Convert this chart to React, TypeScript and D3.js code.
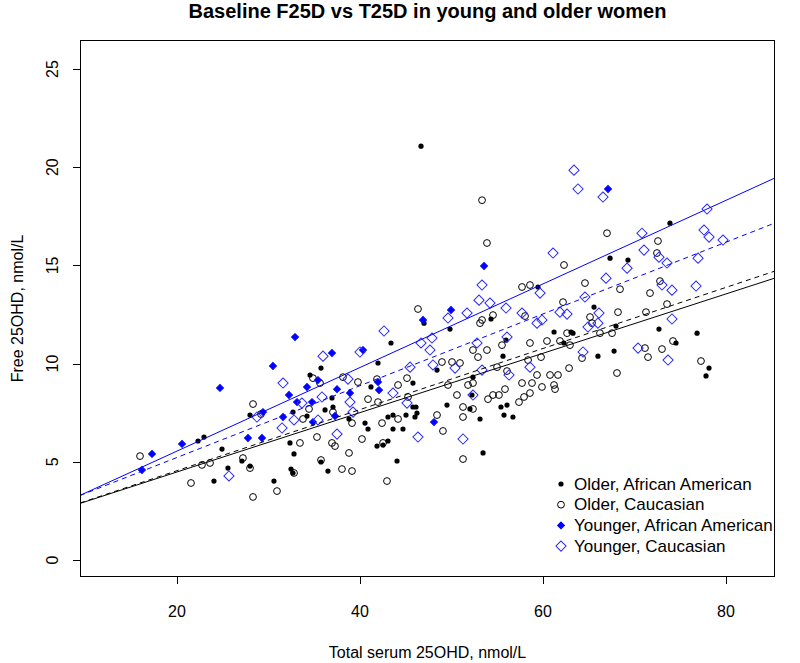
import React from 'react';
import * as d3 from 'd3';

// ---- Data (Total serum 25OHD, Free 25OHD) ----
const olderAfricanAmerican: [number, number][] = [
  [22.95, 6.26], [22.3, 6.06], [27.98, 7.38], [24.92, 5.65], [25.57, 4.68], [27.1, 5.04], [27.98, 4.78],
  [32.35, 5.96], [32.79, 5.4], [32.46, 4.63], [32.68, 4.43], [30.6, 4.02], [24.04, 4.02], [32.68, 7.53],
  [43.39, 11.05], [41.97, 10.03], [35.74, 9.77], [34.54, 9.42], [45.79, 9.01],
  [36.94, 8.25], [41.2, 8.81], [45.79, 7.79], [46.12, 7.79], [36.18, 7.64], [37.05, 7.79], [34.21, 7.33],
  [38.8, 7.18], [40.55, 6.97], [40.88, 6.67], [43.06, 7.28], [43.61, 7.38], [45.03, 7.38], [46.01, 7.28],
  [46.23, 7.48], [43.61, 6.67], [44.7, 6.67], [41.86, 5.8], [42.52, 5.85], [43.06, 6.06], [35.74, 4.99],
  [36.5, 4.53], [44.05, 5.04],
  [59.46, 13.9], [47.0, 12.06], [54.32, 12.27], [49.84, 11.76], [55.96, 11.2], [55.63, 10.38], [48.42, 9.67],
  [52.35, 9.31], [52.24, 8.4], [49.51, 7.89], [52.02, 7.69], [53.12, 7.18], [55.41, 7.79], [56.07, 7.89],
  [55.74, 7.38], [56.72, 7.28], [53.45, 5.45],
  [65.58, 12.88], [61.21, 11.61], [63.06, 11.61], [63.28, 11.55], [67.98, 11.91], [72.68, 11.76], [62.3, 11.05],
  [66.01, 10.38], [67.77, 10.64], [76.84, 11.55], [74.54, 11.05], [78.15, 9.77], [77.82, 9.37],
  [46.67, 21.07], [73.88, 17.15], [67.33, 15.37], [69.29, 15.27],
];

const olderCaucasian: [number, number][] = [
  [28.31, 7.94], [29.18, 7.43], [33.77, 7.18], [33.44, 5.96], [27.21, 5.19], [22.73, 4.84], [23.61, 4.94],
  [27.98, 4.68], [32.79, 4.43], [21.53, 3.92], [30.93, 3.51], [28.31, 3.21], [15.96, 5.29],
  [46.34, 12.78], [45.14, 9.26], [34.86, 9.26], [38.14, 9.31], [39.78, 9.06], [41.86, 9.21],
  [35.63, 9.01], [40.88, 8.19], [41.97, 8.04], [44.16, 8.91], [45.25, 8.3], [37.05, 7.53], [34.43, 7.69],
  [39.13, 6.97], [42.41, 6.97], [44.16, 7.18], [40.22, 6.16], [42.52, 5.96], [35.3, 6.26], [36.94, 5.96],
  [37.27, 5.8], [38.8, 5.45], [35.74, 5.09], [38.03, 4.63], [39.13, 4.53], [42.95, 4.02],
  [57.71, 13.9], [58.58, 14.0], [53.34, 12.22], [54.54, 12.47], [53.12, 12.06], [58.04, 12.42],
  [52.35, 10.69], [53.88, 10.69], [52.9, 10.33], [55.52, 10.94], [58.58, 11.05], [59.79, 10.33], [58.37, 10.18],
  [48.96, 10.08], [50.06, 10.08], [50.93, 10.03], [54.98, 9.82], [56.07, 9.62], [59.35, 9.42],
  [49.62, 8.91], [51.81, 8.91], [52.35, 9.01], [50.6, 8.4], [53.99, 8.19], [54.54, 8.4], [55.19, 8.4],
  [55.85, 8.7], [57.71, 9.01], [58.8, 9.01], [59.89, 8.81], [57.38, 8.04], [57.93, 8.3], [58.58, 8.5],
  [51.26, 7.79], [52.35, 7.69], [51.26, 7.28], [48.42, 7.38], [49.07, 6.57], [51.26, 5.14],
  [64.59, 14.1], [68.42, 13.79], [71.7, 13.59], [62.19, 13.13], [68.2, 12.62], [71.26, 12.62], [65.14, 12.37],
  [65.36, 12.06], [62.63, 11.55], [66.23, 11.55], [67.55, 11.55], [73.01, 10.74], [60.44, 11.15], [61.86, 11.15],
  [62.95, 10.94], [64.27, 10.28], [71.15, 10.79], [71.48, 10.33], [62.85, 9.77], [60.77, 9.42], [61.64, 9.42],
  [68.09, 9.52], [61.21, 8.91], [61.32, 8.7],
  [73.56, 13.03], [74.21, 11.15], [77.27, 10.13],
  [53.34, 18.32], [53.88, 16.14], [67.0, 16.64], [72.57, 16.24], [72.46, 15.63], [62.3, 15.02], [72.79, 14.2],
];

const youngerAfricanAmerican: [number, number][] = [
  [16.17, 4.58], [17.27, 5.4], [20.55, 5.91], [24.7, 8.76], [30.49, 9.88], [32.9, 11.35], [32.24, 8.4],
  [33.12, 8.04], [27.76, 6.21], [29.29, 6.21], [31.59, 7.28], [29.4, 7.53],
  [46.89, 12.22], [36.94, 10.54], [40.33, 10.69], [35.41, 9.16], [41.97, 9.06], [42.08, 8.65],
  [34.21, 8.81], [34.76, 8.04], [37.49, 8.7], [38.91, 8.5], [37.27, 7.33], [34.86, 7.02],
  [49.95, 12.73], [48.09, 7.02], [53.56, 14.97], [67.11, 18.89],
];

const youngerCaucasian: [number, number][] = [
  [31.59, 9.01], [28.74, 7.28], [32.79, 7.13], [31.48, 6.72], [33.66, 7.99], [25.68, 4.28],
  [42.63, 11.66], [35.96, 10.38], [40.0, 10.59], [46.67, 11.05], [45.47, 9.82], [38.69, 9.21],
  [35.85, 8.3], [38.91, 8.04], [39.24, 7.53], [43.61, 8.5], [45.14, 7.99], [35.41, 7.13], [37.49, 6.41], [46.34, 6.26],
  [53.34, 14.0], [59.68, 13.59], [53.01, 13.23], [54.21, 13.08], [55.96, 12.83], [49.62, 12.32], [51.7, 12.57],
  [57.71, 12.57], [59.35, 12.06], [59.89, 12.22], [47.87, 11.3], [47.65, 10.69], [52.79, 11.05], [56.07, 11.35],
  [47.98, 9.93], [50.39, 9.77], [53.34, 9.67], [56.29, 9.42], [58.58, 9.82], [52.35, 8.4], [51.26, 6.16],
  [66.89, 14.35], [73.01, 14.0], [64.59, 13.39], [66.12, 12.57], [61.86, 12.62], [62.63, 12.52], [66.01, 12.06],
  [64.92, 11.86], [64.38, 10.59], [70.39, 10.79], [74.1, 13.74], [76.73, 13.95], [74.1, 12.27], [73.67, 10.18],
  [61.1, 15.63], [63.39, 19.85], [63.83, 18.89], [66.56, 18.48], [77.93, 17.87], [70.82, 16.64], [77.6, 16.8],
  [78.15, 16.44], [79.68, 16.29], [71.04, 15.78], [72.68, 15.42], [73.56, 15.12], [76.95, 15.37], [69.19, 14.86],
];

// Regression lines: [older AA, older Caucasian, younger AA, younger Caucasian]
const lineIntercepts = [1.459, 1.439, 1.289, 1.566];
const lineSlopes = [0.1511, 0.1555, 0.2128, 0.1827];
const lineColors = ['#000000', '#000000', '#0000ff', '#0000ff'];
const lineDashes = ['none', '5,4', 'none', '5,4'];

const xTicks = [20, 40, 60, 80];
const yTicks = [0, 5, 10, 15, 20, 25];
const legendLabels = ['Older, African American', 'Older, Caucasian', 'Younger, African American', 'Younger, Caucasian'];

const title = 'Baseline F25D vs T25D in young and older women';
const xLabel = 'Total serum 25OHD, nmol/L';
const yLabel = 'Free 25OHD, nmol/L';

const W = 800;
const H = 663;
const L = 80, R = 775, T = 40, B = 577;
const BLUE = '#0000ff';
const BLUE_OPEN = '#2a2aff';

const diamondOpen = d3.symbol(d3.symbolSquare, 52)() as string;
const diamondFilled = d3.symbol(d3.symbolSquare, 24)() as string;

function Marker({ kind, cx, cy }: { kind: number; cx: number; cy: number }) {
  if (kind === 0) return <circle cx={cx} cy={cy} r={2.6} fill="#000" />;
  if (kind === 1) return <circle cx={cx} cy={cy} r={3.4} fill="none" stroke="#000" strokeWidth={1} />;
  if (kind === 2)
    return <path d={diamondFilled} transform={`translate(${cx},${cy}) rotate(45)`} fill={BLUE} stroke={BLUE} strokeWidth={1} />;
  return <path d={diamondOpen} transform={`translate(${cx},${cy}) rotate(45)`} fill="none" stroke={BLUE_OPEN} strokeWidth={1} />;
}

export default function App() {
  const x = d3.scaleLinear().domain([9.4, 85.36]).range([L, R]);
  const y = d3.scaleLinear().domain([-0.866, 26.477]).range([B, T]);
  const series = [olderAfricanAmerican, olderCaucasian, youngerAfricanAmerican, youngerCaucasian];
  const [x0, x1] = x.domain();
  const line = d3.line<[number, number]>().x((d) => x(d[0])).y((d) => y(d[1]));

  return (
    <svg
      width={W}
      height={H}
      style={{ position: 'absolute', left: 0, top: 0, display: 'block' }}
      fontFamily="'Liberation Sans', Arial, sans-serif"
    >
      <rect width={W} height={H} fill="#fff" />
      <defs>
        <clipPath id="plotclip">
          <rect x={L} y={T} width={R - L} height={B - T} />
        </clipPath>
      </defs>

      <text x={(L + R) / 2} y={18} textAnchor="middle" fontWeight="bold" fontSize={20}>
        {title}
      </text>

      {/* points */}
      <g>
        {series.map((s, k) =>
          s.map((d, i) => <Marker key={`${k}-${i}`} kind={k} cx={x(d[0])} cy={y(d[1])} />)
        )}
      </g>

      {/* regression lines */}
      <g clipPath="url(#plotclip)">
        {lineIntercepts.map((a, k) => {
          const pts: [number, number][] = [
            [x0, a + lineSlopes[k] * x0],
            [x1, a + lineSlopes[k] * x1],
          ];
          return (
            <path
              key={k}
              d={line(pts) as string}
              fill="none"
              stroke={lineColors[k]}
              strokeWidth={1}
              strokeDasharray={lineDashes[k]}
            />
          );
        })}
      </g>

      {/* box */}
      <rect x={L + 0.5} y={T + 0.5} width={R - L - 1} height={B - T - 1} fill="none" stroke="#000" strokeWidth={1} />

      {/* x axis */}
      <g>
        {xTicks.map((t) => (
          <g key={t}>
            <line x1={Math.round(x(t)) + 0.5} x2={Math.round(x(t)) + 0.5} y1={B} y2={B + 7} stroke="#000" />
            <text x={x(t)} y={617} textAnchor="middle" fontSize={16}>
              {t}
            </text>
          </g>
        ))}
      </g>

      {/* y axis */}
      <g>
        {yTicks.map((t) => (
          <g key={t}>
            <line x1={L - 7} x2={L} y1={Math.round(y(t)) + 0.5} y2={Math.round(y(t)) + 0.5} stroke="#000" />
            <text transform={`translate(58,${y(t)}) rotate(-90)`} textAnchor="middle" fontSize={16}>
              {t}
            </text>
          </g>
        ))}
      </g>

      <text x={(L + R) / 2} y={658} textAnchor="middle" fontSize={16}>
        {xLabel}
      </text>
      <text transform={`translate(23,${(T + B) / 2}) rotate(-90)`} textAnchor="middle" fontSize={16}>
        {yLabel}
      </text>

      {/* legend */}
      <g>
        {legendLabels.map((lab, k) => {
          const cy = 484 + k * 20.7;
          return (
            <g key={lab}>
              <Marker kind={k} cx={561} cy={cy} />
              <text x={574} y={cy} dominantBaseline="central" fontSize={17}>
                {lab}
              </text>
            </g>
          );
        })}
      </g>
    </svg>
  );
}
